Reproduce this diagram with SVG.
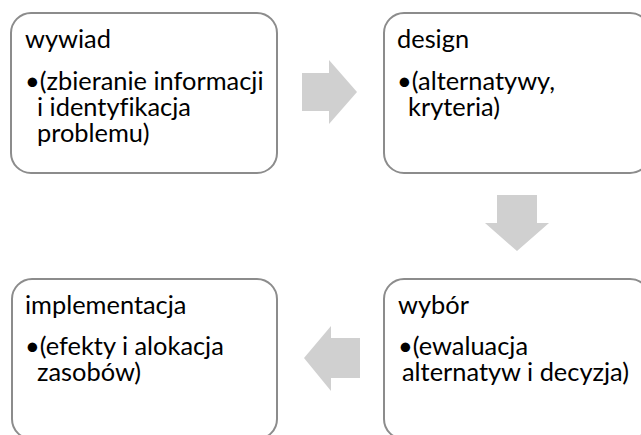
<svg xmlns="http://www.w3.org/2000/svg" width="641" height="435" viewBox="0 0 641 435">
<style>
.box{fill:#fff;stroke:#8c8c8c;stroke-width:2}
.t{font-family:Lato,"Liberation Sans",sans-serif;font-size:25.4px;fill:#000;font-variant-ligatures:none}
.arr{fill:#d0d0d0}
</style>
<rect width="641" height="435" fill="#fff"/>
<g id="connectors">
<polygon class="arr" points="302,73 329,73 329,60 357,92 329,124 329,111 302,111"/>
<polygon class="arr" points="497,195 537,195 537,223 549,223 517,251 485,223 497,223"/>
<polygon class="arr" points="360,338 331,338 331,326 304,358 331,391 331,378 360,378"/>
</g>
<g id="wywiad">
<rect class="box" x="11" y="13" width="266" height="160" rx="20"/>
<text class="t" x="25" y="48">wywiad</text>
<text class="t" x="25" y="90">•(zbieranie informacji</text>
<text class="t" x="37" y="116">i identyfikacja</text>
<text class="t" x="37" y="142">problemu)</text>
</g>
<g id="design">
<rect class="box" x="384" y="13" width="266" height="160" rx="20"/>
<text class="t" x="397" y="48">design</text>
<text class="t" x="397" y="90">•(alternatywy,</text>
<text class="t" x="408" y="116">kryteria)</text>
</g>
<g id="wybor">
<rect class="box" x="384" y="279" width="266" height="160" rx="20"/>
<text class="t" x="398" y="314">wybór</text>
<text class="t" x="398" y="355">•(ewaluacja</text>
<text class="t" x="402" y="381">alternatyw i decyzja)</text>
</g>
<g id="implementacja">
<rect class="box" x="12" y="279" width="265" height="160" rx="20"/>
<text class="t" x="25" y="314">implementacja</text>
<text class="t" x="25" y="355">•(efekty i alokacja</text>
<text class="t" x="37" y="381">zasobów)</text>
</g>
</svg>
